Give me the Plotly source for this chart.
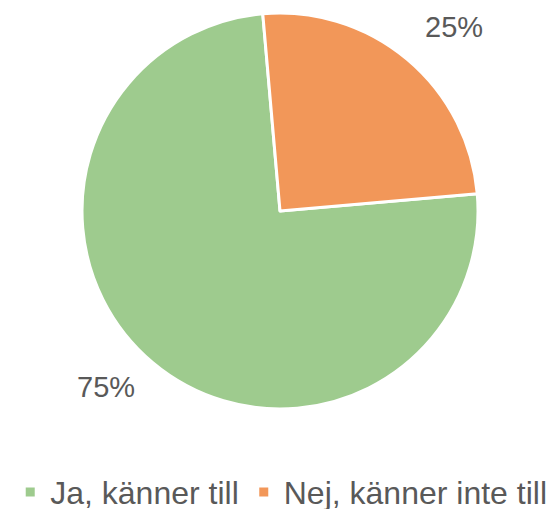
import math
import plotly.graph_objects as go

categories = ["Ja, känner till", "Nej, känner inte till"]
values = [75, 25]
colors = ["#9ECB8E", "#F29759"]

W, H = 558, 509
ROTATION = 85          # start angle of first slice (degrees clockwise from 12 o'clock)
DOMAIN_X = [0.0036, 1.0]
DOMAIN_Y = [0.1965, 0.9745]
LABEL_R = 250          # px distance of percentage labels from pie centre
LABEL_ANGLE_OFFSET = 4 # degrees
FONT = "Liberation Sans, Arial, sans-serif"
TEXT_COLOR = "#595959"

fig = go.Figure(go.Pie(
    labels=categories,
    values=values,
    sort=False,
    direction="clockwise",
    rotation=ROTATION,
    marker=dict(colors=colors, line=dict(color="white", width=3)),
    textinfo="none",
    textposition="none",
    domain=dict(x=DOMAIN_X, y=DOMAIN_Y),
    hoverinfo="label+percent",
))

# percentage labels placed outside the slices, derived from the data
total = sum(values)
cx = (DOMAIN_X[0] + DOMAIN_X[1]) / 2 * W
cy = (1 - (DOMAIN_Y[0] + DOMAIN_Y[1]) / 2) * H
cum = 0
for v in values:
    mid = ROTATION + (cum + v / 2) / total * 360 + LABEL_ANGLE_OFFSET
    cum += v
    a = math.radians(mid)
    px = cx + LABEL_R * math.sin(a)
    py = cy - LABEL_R * math.cos(a)
    fig.add_annotation(
        x=px / W, y=1 - py / H, xref="paper", yref="paper",
        text=f"{round(v / total * 100)}%", showarrow=False,
        xanchor="center", yanchor="middle", yshift=4,
        font=dict(family=FONT, size=29, color=TEXT_COLOR),
    )

fig.update_layout(
    width=W, height=H,
    margin=dict(l=0, r=0, t=0, b=0, autoexpand=False),
    paper_bgcolor="white",
    plot_bgcolor="white",
    showlegend=True,
    legend=dict(
        orientation="h", x=0.504, xanchor="center", y=0.033, yanchor="middle",
        font=dict(family=FONT, size=32, color=TEXT_COLOR),
        itemwidth=30,
    ),
)

fig.write_html(
    "out.html",
    config={"displayModeBar": False},
    post_script="document.body.style.margin='0';document.body.style.overflow='hidden';",
)
